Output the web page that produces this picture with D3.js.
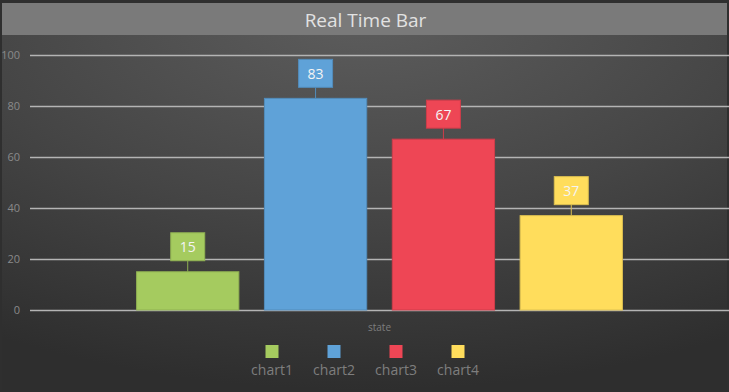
<!DOCTYPE html>
<html><head><meta charset="utf-8">
<script src="https://cdn.jsdelivr.net/npm/d3@7"></script>
<style>html,body{margin:0;padding:0;background:#2f2f2f;}svg{display:block;}</style>
</head><body>
<svg id="c" width="729" height="392"></svg>
<script>
const categories = ["state"];
const seriesNames = ["chart1", "chart2", "chart3", "chart4"];
const seriesValues = [15, 83, 67, 37];
const seriesColors = ["#a5cb5f", "#5fa2d8", "#ee4655", "#ffdd5c"];
const yTicks = [0, 20, 40, 60, 80, 100];
const titleText = "Real Time Bar";

const W = 729, H = 392;
const svg = d3.select("#c");
const defs = svg.append("defs");
const g1 = defs.append("radialGradient").attr("id","bg").attr("cx","50%").attr("cy","0%").attr("r","100%").attr("fx","50%").attr("fy","0%");
g1.append("stop").attr("offset","0%").attr("stop-color","#5e5e5e");
g1.append("stop").attr("offset","55%").attr("stop-color","#454545");
g1.append("stop").attr("offset","100%").attr("stop-color","#2e2e2e");

svg.append("rect").attr("width",W).attr("height",H).attr("fill","#2f2f2f");
svg.append("rect").attr("x",2).attr("y",3).attr("width",W-4).attr("height",H-5).attr("fill","url(#bg)");
svg.append("rect").attr("x",2).attr("y",3).attr("width",W-4).attr("height",32).attr("fill","#7a7a7a");
svg.append("text").attr("x",365.5).attr("y",27).attr("text-anchor","middle")
  .attr("font-family","'Open Sans', sans-serif").attr("font-size",19).attr("fill","#e2e2e2").text(titleText);

const y = d3.scaleLinear().domain([0,100]).range([310,55]);
const x0 = d3.scaleBand().domain(categories).range([30,729]).paddingInner(0.155).paddingOuter(0.155);
const x1 = d3.scaleBand().domain(seriesNames).range([0,x0.bandwidth()]).paddingInner(0.2).paddingOuter(0.1);

// grid
const yAxis = d3.axisLeft(y).tickValues(yTicks).tickSize(-699).tickPadding(10);
const ga = svg.append("g").attr("transform","translate(30,0)").call(yAxis);
ga.select(".domain").remove();
ga.selectAll(".tick line").attr("stroke","#b4b4b4").attr("stroke-width",1.5);
ga.selectAll(".tick text").attr("fill","#8a8a8a").attr("font-family","'Open Sans', sans-serif").attr("font-size",11).attr("x",-10);

const data = seriesNames.map((n,i)=>({name:n, value:seriesValues[i], color:seriesColors[i]}));
const grp = svg.append("g").attr("transform",`translate(${x0("state")},0)`);
grp.selectAll("rect.bar").data(data).join("rect").attr("class","bar")
  .attr("x",d=>x1(d.name)).attr("y",d=>y(d.value)).attr("width",x1.bandwidth()).attr("height",d=>y(0)-y(d.value))
  .attr("fill",d=>d.color).attr("stroke",d=>d3.color(d.color).darker(0.4)).attr("stroke-width",1);

const lab = grp.selectAll("g.lab").data(data).join("g").attr("class","lab")
  .attr("transform",d=>`translate(${x1(d.name)+x1.bandwidth()/2},${y(d.value)})`);
lab.append("line").attr("x1",0).attr("x2",0).attr("y1",0).attr("y2",-11).attr("stroke",d=>d3.color(d.color).darker(0.4)).attr("stroke-width",1);
lab.append("rect").attr("x",-17).attr("y",-39).attr("width",34).attr("height",28)
  .attr("fill",d=>d.color).attr("stroke",d=>d3.color(d.color).darker(0.4)).attr("stroke-width",1);
lab.append("text").attr("x",0).attr("y",-19.5).attr("text-anchor","middle").attr("font-family","'Open Sans', sans-serif")
  .attr("font-size",14).attr("fill","#f4f4f4").text(d=>d.value);

svg.append("text").attr("x",x0("state")+x0.bandwidth()/2).attr("y",331).attr("text-anchor","middle")
  .attr("font-family","'Open Sans', sans-serif").attr("font-size",10).attr("fill","#7e7e7e").text(categories[0]);

const lx = d3.scalePoint().domain(seriesNames).range([272,458]);
const leg = svg.append("g").selectAll("g").data(data).join("g").attr("transform",d=>`translate(${lx(d.name)},0)`);
leg.append("rect").attr("x",-6.5).attr("y",345).attr("width",13).attr("height",13).attr("fill",d=>d.color);
leg.append("text").attr("x",0).attr("y",375).attr("text-anchor","middle").attr("font-family","'Open Sans', sans-serif")
  .attr("font-size",14).attr("fill","#7e7e7e").text(d=>d.name);
</script>
</body></html>
